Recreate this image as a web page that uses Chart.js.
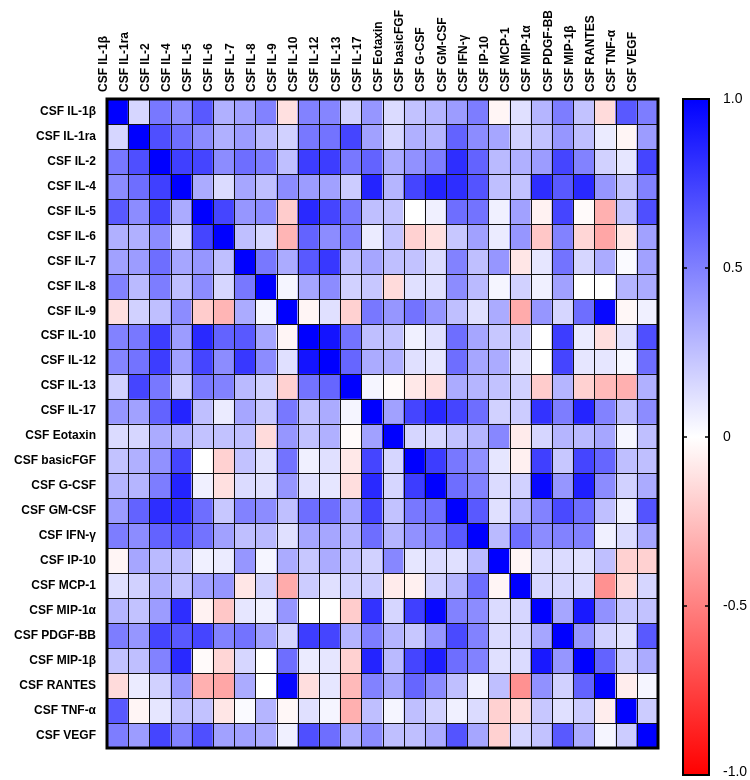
<!DOCTYPE html>
<html><head><meta charset="utf-8">
<script src="https://cdn.jsdelivr.net/npm/chart.js@4.4.1/dist/chart.umd.min.js"></script>
<style>html,body{margin:0;padding:0;background:#fff}#wrap{width:750px;height:780px;position:relative}</style>
</head><body><div id="wrap"><canvas id="c"></canvas></div>
<script>
const labels = ['CSF IL-1β','CSF IL-1ra','CSF IL-2','CSF IL-4','CSF IL-5','CSF IL-6','CSF IL-7','CSF IL-8','CSF IL-9','CSF IL-10','CSF IL-12','CSF IL-13','CSF IL-17','CSF Eotaxin','CSF basicFGF','CSF G-CSF','CSF GM-CSF','CSF IFN-γ','CSF IP-10','CSF MCP-1','CSF MIP-1α','CSF PDGF-BB','CSF MIP-1β','CSF RANTES','CSF TNF-α','CSF VEGF'];

const row_IL1b     = [1, .16, .53, .45, .65, .31, .37, .49, -.12, .49, .48, .18, .41, .14, .24, .29, .39, .51, -.04, .12, .29, .51, .24, -.14, .65, .51];
const row_IL1ra    = [.16, 1, .69, .57, .45, .31, .39, .27, .18, .53, .55, .73, .37, .16, .31, .29, .61, .45, .35, .18, .24, .41, .25, .08, -.04, .39];
const row_IL2      = [.53, .69, 1, .75, .73, .45, .57, .51, .25, .76, .76, .53, .61, .33, .43, .51, .82, .61, .27, .31, .39, .73, .49, .18, .10, .73];
const row_IL4      = [.45, .57, .75, 1, .33, .14, .35, .25, .45, .39, .37, .20, .86, .29, .73, .86, .82, .67, .25, .24, .82, .65, .84, .41, .24, .49];
const row_IL5      = [.65, .45, .73, .33, 1, .73, .41, .45, -.20, .84, .73, .53, .25, .24, .00, .06, .57, .55, .06, .37, -.05, .73, -.02, -.31, .24, .69];
const row_IL6      = [.31, .31, .45, .14, .73, 1, .25, .16, -.29, .61, .45, .49, .08, .24, -.18, -.12, .22, .37, .08, .41, -.22, .49, -.16, -.35, -.10, .37];
const row_IL7      = [.37, .39, .57, .35, .41, .25, 1, .53, .33, .65, .78, .27, .35, .25, .24, .14, .49, .25, .41, -.10, .10, .55, .16, .33, .02, .37];
const row_IL8      = [.49, .27, .51, .25, .45, .16, .53, 1, .04, .35, .45, .18, .22, -.14, .12, .12, .45, .27, .04, .18, .06, .37, .00, .00, .29, .33];
const row_IL9      = [-.12, .18, .25, .45, -.20, -.29, .33, .04, 1, -.04, .12, -.18, .53, .41, .55, .41, .25, .12, .33, -.33, .41, .16, .57, .97, -.03, .06];
const row_IL10     = [.49, .53, .76, .39, .84, .61, .65, .35, -.04, 1, .92, .55, .25, .24, .06, .12, .57, .35, .22, .20, .00, .76, .08, -.13, .12, .69];
const row_IL12     = [.48, .55, .76, .37, .73, .45, .78, .45, .12, .92, 1, .60, .33, .31, .12, .10, .57, .35, .33, .12, .00, .73, .10, .10, .04, .57];
const row_IL13     = [.18, .73, .53, .20, .53, .49, .27, .18, -.18, .55, .60, 1, .04, -.02, -.09, -.13, .33, .29, .24, .18, -.20, .29, -.18, -.27, -.31, .31];
const row_IL17     = [.41, .37, .61, .86, .25, .08, .35, .22, .53, .25, .33, .04, 1, .37, .73, .84, .73, .57, .18, .20, .80, .51, .86, .49, .25, .45];
const row_Eotaxin  = [.14, .16, .33, .29, .24, .24, .25, -.14, .41, .24, .31, -.02, .37, 1, .16, .16, .24, .29, .47, -.08, .16, .29, .27, .35, .04, .25];
const row_basicFGF = [.24, .31, .43, .73, .00, -.18, .24, .12, .55, .06, .12, -.09, .73, .16, 1, .76, .53, .43, .10, -.06, .75, .22, .73, .60, .25, .25];
const row_GCSF     = [.29, .29, .51, .86, .06, -.12, .14, .12, .41, .12, .10, -.13, .84, .16, .76, 1, .57, .49, .14, .18, .97, .41, .88, .45, .18, .33];
const row_GMCSF    = [.39, .61, .82, .82, .57, .22, .49, .45, .25, .57, .57, .33, .73, .24, .53, .57, 1, .65, .12, .29, .49, .71, .57, .25, .06, .67];
const row_IFNg     = [.51, .45, .61, .67, .55, .37, .25, .27, .12, .35, .35, .29, .57, .29, .43, .49, .65, 1, .27, .57, .45, .49, .49, .06, .14, .35];
const row_IP10     = [-.04, .35, .27, .25, .06, .08, .41, .04, .33, .22, .33, .24, .18, .47, .10, .14, .12, .27, 1, -.04, .14, .14, .12, .25, -.18, -.18];
const row_MCP1     = [.12, .18, .31, .24, .37, .41, -.10, .18, -.33, .20, .12, .18, .20, -.08, -.06, .18, .29, .57, -.04, 1, .16, .16, .14, -.43, -.14, .16];
const row_MIP1a    = [.29, .24, .39, .82, -.05, -.22, .10, .06, .41, .00, .00, -.20, .80, .16, .75, .97, .49, .45, .14, .16, 1, .35, .90, .43, .22, .24];
const row_PDGFBB   = [.51, .41, .73, .65, .73, .49, .55, .37, .16, .76, .73, .29, .51, .29, .22, .41, .71, .49, .14, .16, .35, 1, .41, .18, .12, .65];
const row_MIP1b    = [.24, .25, .49, .84, -.02, -.16, .16, .00, .57, .08, .10, -.18, .86, .27, .73, .88, .57, .49, .12, .14, .90, .41, 1, .61, .20, .33];
const row_RANTES   = [-.14, .08, .18, .41, -.31, -.35, .33, .00, .97, -.13, .10, -.27, .49, .35, .60, .45, .25, .06, .25, -.43, .43, .18, .61, 1, -.07, .04];
const row_TNFa     = [.65, -.04, .10, .24, .24, -.10, .02, .29, -.03, .12, .04, -.31, .25, .04, .25, .18, .06, .14, -.18, -.14, .22, .12, .20, -.07, 1, .20];
const row_VEGF     = [.51, .39, .73, .49, .69, .37, .37, .33, .06, .69, .57, .31, .45, .25, .25, .33, .67, .35, -.18, .16, .24, .65, .33, .04, .20, 1];

const rows = [row_IL1b,row_IL1ra,row_IL2,row_IL4,row_IL5,row_IL6,row_IL7,row_IL8,row_IL9,row_IL10,row_IL12,row_IL13,row_IL17,row_Eotaxin,row_basicFGF,row_GCSF,row_GMCSF,row_IFNg,row_IP10,row_MCP1,row_MIP1a,row_PDGFBB,row_MIP1b,row_RANTES,row_TNFa,row_VEGF];

const cbTicks = [1, 0.5, 0, -0.5, -1];
const cbTickLabels = ['1.0', '0.5', '0', '-0.5', '-1.0'];

const FONT = "'Liberation Sans', Arial, Helvetica, sans-serif";

function corrColor(v){
  v = Math.max(-1, Math.min(1, v));
  if (v >= 0) { const k = Math.round(255*(1-v)); return `rgb(${k},${k},255)`; }
  const k = Math.round(255*(1+v)); return `rgb(255,${k},${k})`;
}

const datasets = rows.map((arr, i) => ({
  label: labels[i],
  data: arr.map((v, c) => ({x: labels[c], y: [i, i+1], v: v})),
  backgroundColor: ctx => corrColor(ctx.raw.v),
  borderWidth: 0,
  barPercentage: 1,
  categoryPercentage: 1,
  grouped: false
}));

const gridFrameColorbar = {
  id: 'gridFrameColorbar',
  afterDatasetsDraw(chart){
    const ctx = chart.ctx, ca = chart.chartArea;
    const xs = chart.scales.x, ys = chart.scales.y;
    ctx.save();
    ctx.strokeStyle = '#111';
    ctx.lineWidth = 1;
    ctx.beginPath();
    for (let i = 1; i < labels.length; i++) {
      const y = Math.round(ys.getPixelForValue(i)) + 0.5;
      ctx.moveTo(ca.left, y); ctx.lineTo(ca.right, y);
      const x = Math.round((xs.getPixelForValue(i - 1) + xs.getPixelForValue(i)) / 2) + 0.5;
      ctx.moveTo(x, ca.top); ctx.lineTo(x, ca.bottom);
    }
    ctx.stroke();
    ctx.strokeStyle = '#000';
    ctx.lineWidth = 3;
    ctx.strokeRect(ca.left, ca.top, ca.right - ca.left, ca.bottom - ca.top);
    ctx.restore();
  },
  afterDraw(chart){
    const ctx = chart.ctx, ca = chart.chartArea;
    ctx.save();
    const x0 = ca.right + 25, w = 26;
    const top = ca.top, H = 676;
    const pix = v => top + (1 - v) / 2 * H;
    const g = ctx.createLinearGradient(0, pix(1), 0, pix(-1));
    g.addColorStop(0, corrColor(1));
    g.addColorStop(0.25, corrColor(0.5));
    g.addColorStop(0.5, corrColor(0));
    g.addColorStop(0.75, corrColor(-0.5));
    g.addColorStop(1, corrColor(-1));
    ctx.fillStyle = g;
    ctx.fillRect(x0, pix(1), w, pix(-1) - pix(1));
    ctx.strokeStyle = '#000';
    ctx.lineWidth = 2;
    ctx.strokeRect(x0, pix(1), w, pix(-1) - pix(1));
    ctx.lineWidth = 1.5;
    ctx.fillStyle = '#000';
    ctx.font = `14px ${FONT}`;
    ctx.textAlign = 'left';
    ctx.textBaseline = 'middle';
    cbTicks.forEach((t, i) => {
      const y = pix(t);
      if (t < 1 && t > -1) {
        ctx.beginPath();
        ctx.moveTo(x0, y); ctx.lineTo(x0 + 4, y);
        ctx.moveTo(x0 + w - 4, y); ctx.lineTo(x0 + w, y);
        ctx.stroke();
      }
      ctx.fillText(cbTickLabels[i], x0 + w + 14, Math.min(y, 772));
    });
    ctx.restore();
  }
};

new Chart(document.getElementById('c'), {
  type: 'bar',
  data: { labels: labels, datasets: datasets },
  options: {
    responsive: true,
    maintainAspectRatio: false,
    devicePixelRatio: 1,
    animation: false,
    layout: { padding: { left: 0, top: 0, right: 92, bottom: 32 } },
    plugins: { legend: { display: false }, tooltip: { enabled: false } },
    scales: {
      x: {
        type: 'category',
        position: 'top',
        offset: true,
        grid: { display: false, drawTicks: false },
        border: { display: false },
        ticks: { autoSkip: false, maxRotation: 90, minRotation: 90, padding: 7, color: '#000',
                 font: { family: FONT, size: 12, weight: 'bold' } },
        afterFit: s => { s.height = 99; }
      },
      y: {
        type: 'linear',
        min: 0, max: 26,
        reverse: true,
        grid: { display: false, drawTicks: false },
        border: { display: false },
        afterBuildTicks: s => { s.ticks = labels.concat(['']).map((_, i) => ({ value: i })); },
        ticks: { autoSkip: false, padding: 11, labelOffset: 12.5, color: '#000',
                 font: { family: FONT, size: 12, weight: 'bold' },
                 callback: v => labels[v] !== undefined ? labels[v] : '' },
        afterFit: s => { s.width = 107; }
      }
    }
  },
  plugins: [gridFrameColorbar]
});
</script>
</body></html>
